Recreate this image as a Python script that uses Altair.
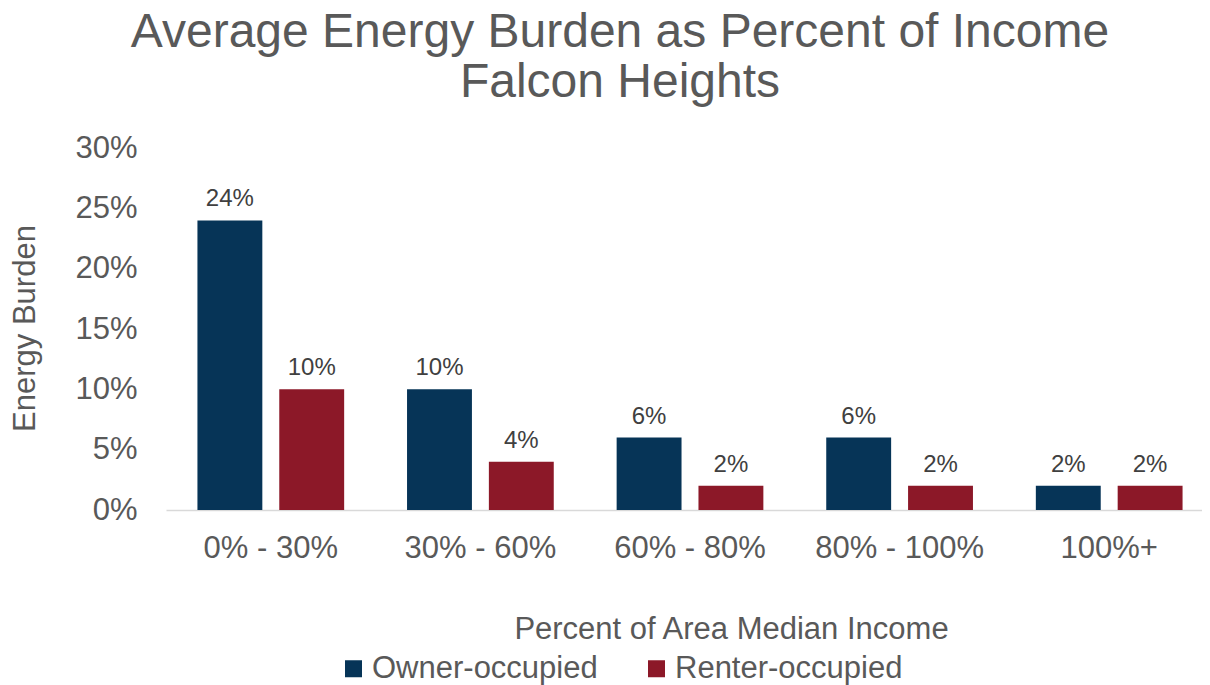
import altair as alt
import pandas as pd

categories = ["0% - 30%", "30% - 60%", "60% - 80%", "80% - 100%", "100%+"]
owner = [0.24, 0.10, 0.06, 0.06, 0.02]
renter = [0.10, 0.04, 0.02, 0.02, 0.02]
series = ["Owner-occupied", "Renter-occupied"]
colors = ["#063457", "#8C1828"]
y_ticks = [0, 0.05, 0.10, 0.15, 0.20, 0.25, 0.30]

rows = []
for c, o, r in zip(categories, owner, renter):
    rows.append({"cat": c, "series": series[0], "value": o})
    rows.append({"cat": c, "series": series[1], "value": r})
df = pd.DataFrame(rows)

FONT = "Liberation Sans, Arial, sans-serif"

x = alt.X(
    "cat:N",
    sort=categories,
    scale=alt.Scale(paddingInner=0.30, paddingOuter=0.15, range=[0, 1048]),
    axis=alt.Axis(
        title="Percent of Area Median Income",
        labelAngle=0,
        labelFontSize=31,
        labelColor="#595959",
        labelFont=FONT,
        labelPadding=23,
        ticks=False,
        domainColor="#d9d9d9",
        domainWidth=1.5,
        titleFontSize=31,
        titleFont=FONT,
        titleFontWeight="normal",
        titleColor="#595959",
        titleX=565,
        titleY=119,
        titleAlign="center",
        titleBaseline="middle",
        grid=False,
    ),
)
xo = alt.XOffset("series:N", sort=series, scale=alt.Scale(paddingInner=0.207, paddingOuter=0))
y = alt.Y(
    "value:Q",
    scale=alt.Scale(domain=[0, 0.30], nice=False),
    axis=alt.Axis(
        title="Energy Burden",
        values=y_ticks,
        format=".0%",
        labelFontSize=31,
        labelColor="#595959",
        labelFont=FONT,
        labelPadding=29,
        ticks=False,
        domain=False,
        grid=False,
        titleFontSize=31,
        titleFont=FONT,
        titleFontWeight="normal",
        titleColor="#595959",
        titleX=-141,
        titleY=180,
        titleAngle=-90,
        titleAlign="center",
        titleBaseline="middle",
    ),
)
color = alt.Color(
    "series:N",
    sort=series,
    scale=alt.Scale(domain=series, range=colors),
    legend=alt.Legend(
        title=None,
        orient="none",
        direction="horizontal",
        legendX=172,
        legendY=505,
        symbolType="square",
        symbolSize=289,
        symbolStrokeWidth=0,
        symbolOpacity=1,
        labelFontSize=31,
        labelFont=FONT,
        labelColor="#595959",
        labelOffset=3,
        labelLimit=0,
        columnPadding=43,
        padding=0,
    ),
)

bars = alt.Chart(df).mark_bar().encode(x=x, xOffset=xo, y=y, color=color)
labels = alt.Chart(df).mark_text(
    baseline="bottom", dy=-9, fontSize=24, font=FONT, color="#404040"
).encode(
    x=x, xOffset=xo, y=y, text=alt.Text("value:Q", format=".0%")
)

chart = (
    alt.layer(bars, labels)
    .properties(
        width=1036,
        height=362,
        autosize=alt.AutoSizeParams(type="none"),
        padding={"left": 158, "top": 140, "right": 0, "bottom": 176},
        title=alt.TitleParams(
            ["Average Energy Burden as Percent of Income", "Falcon Heights"],
            fontSize=48,
            font=FONT,
            fontWeight="normal",
            color="#595959",
            anchor="middle",
            frame="group",
            dx=-64,
            lineHeight=50,
            offset=25,
        ),
    )
    .configure(background="white")
    .configure_view(stroke="transparent", strokeWidth=0)
)

chart.save("out.html", embed_options={"renderer": "svg", "actions": False})
